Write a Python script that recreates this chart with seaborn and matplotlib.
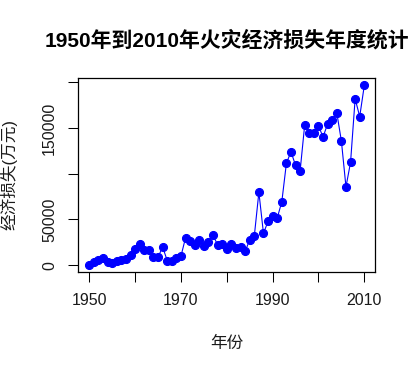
import numpy as np
import pandas as pd
import matplotlib
matplotlib.use("Agg")
import matplotlib.pyplot as plt
import seaborn as sns

years = list(range(1950, 2011))
losses = [
    700, 3700, 6200, 8000, 3700, 2600, 4400, 5500, 7300, 11000,
    17200, 22700, 16100, 16100, 8800, 8800, 19800, 5100, 5100, 8000,
    9900, 30000, 26400, 22000, 27100, 20900, 25300, 33000, 22000, 22700,
    17200, 22700, 18300, 19800, 15000, 27800, 31800, 79800, 34800, 47900,
    54200, 51600, 69200, 111300, 124100, 109100, 103200, 153700, 144200, 144200,
    152300, 140200, 154500, 159200, 166500, 135800, 85600, 112400, 181900, 162500,
    196500,
]
x_ticks = [1950, 1960, 1970, 1980, 1990, 2000, 2010]
x_labels = ["1950", "", "1970", "", "1990", "", "2010"]
y_ticks = [0, 50000, 100000, 150000, 200000]
y_labels = ["0", "50000", "", "150000", ""]

title = "1950年到2010年火灾经济损失年度统计"
xlabel = "年份"
ylabel = "经济损失(万元)"

df = pd.DataFrame({"year": years, "loss": losses})

sns.set_theme(style="white")
plt.rcParams["font.family"] = ["Liberation Sans", "Noto Sans CJK SC", "DejaVu Sans"]

fig = plt.figure(figsize=(4.16, 3.70), dpi=100)
ax = fig.add_axes([78.3 / 416, 1 - 271.7 / 370, (375.3 - 78.3) / 416, (271.7 - 78.3) / 370])

sns.lineplot(data=df, x="year", y="loss", ax=ax, color="#0000FF", linewidth=0.8,
             marker="o", markersize=5.8, markeredgecolor="#0000FF", markerfacecolor="#0000FF")

ax.margins(x=0.04, y=0.04)
ax.set_xticks(x_ticks)
ax.set_xticklabels(x_labels)
ax.set_yticks(y_ticks)
ax.set_yticklabels(y_labels, rotation=90, va="center")

ax.tick_params(axis="both", which="both", direction="out", length=7.2, width=0.75,
               color="black", labelsize=11.5, labelcolor="#1a1a1a", pad=8,
               bottom=True, left=True)

for s in ax.spines.values():
    s.set_visible(True)
    s.set_color("black")
    s.set_linewidth(0.9)

ax.set_xlabel(xlabel, fontsize=12, color="#1a1a1a")
ax.set_ylabel(ylabel, fontsize=12, color="#1a1a1a")
ax.xaxis.set_label_coords(0.5, -0.33)
ax.yaxis.set_label_coords(-0.205, 0.5)
ax.set_title(title, fontsize=15, fontweight="bold", pad=23, color="black")
ax.grid(False)

fig.savefig("out.png", dpi=100, facecolor="white")
